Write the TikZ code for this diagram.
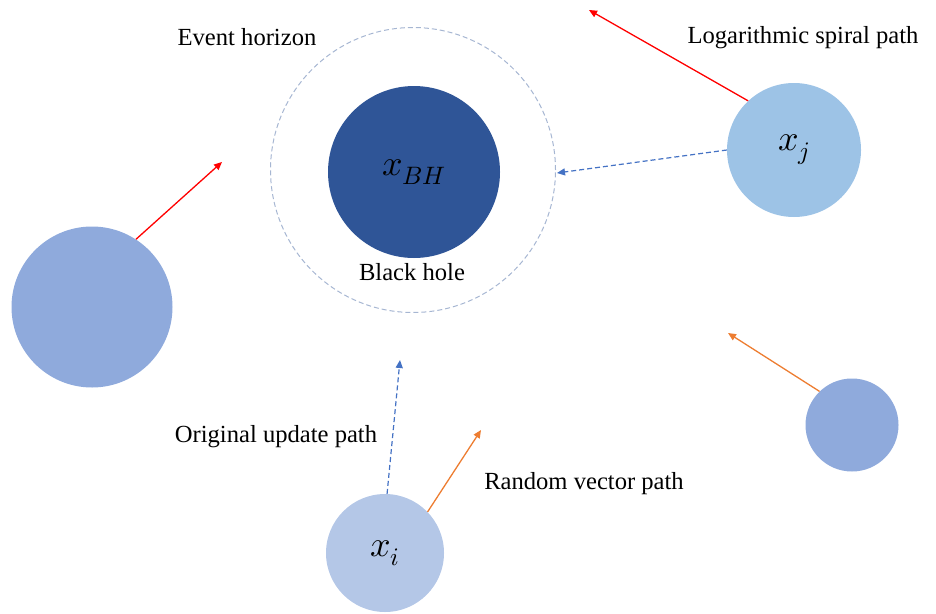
\documentclass[tikz,border=0pt]{standalone}
\usepackage{fontspec}
\usepackage{unicode-math}
\setmainfont{Liberation Serif}
\setmathfont{Latin Modern Math}
\usetikzlibrary{arrows.meta}
\definecolor{bhblue}{HTML}{2F5597}
\definecolor{lightblue}{HTML}{9DC3E6}
\definecolor{midblue}{HTML}{8FAADC}
\definecolor{paleblue}{HTML}{B4C7E7}
\definecolor{horizon}{HTML}{A6B6D2}
\definecolor{dashblue}{HTML}{4472C4}
\definecolor{orangeline}{HTML}{ED7D31}
\tikzset{
  body/.style={circle, draw=none, inner sep=0pt, minimum size=#1},
  lbl/.style={font=\fontsize{24.6}{29}\selectfont, inner sep=0pt},
  mlbl/.style={font=\fontsize{36}{42}\selectfont},
  tip/.style={-{Triangle[length=8pt,width=7pt]}},
  redpath/.style={tip, draw=red, line width=1.3pt},
  orangepath/.style={tip, draw=orangeline, line width=1.3pt},
  bluepath/.style={tip, draw=dashblue, line width=1.2pt, dash pattern=on 5pt off 3pt},
}
\begin{document}
\begin{tikzpicture}[x=1pt, y=-1pt]
\useasboundingbox (0,0) rectangle (936,613);

% event horizon and black hole
\node[body=285pt, draw=horizon, line width=1pt, dash pattern=on 5pt off 3pt] (eh) at (413,170) {};
\node[body=172pt, fill=bhblue, mlbl] (bh) at (414,172) {$x_{BH}$};
\node[lbl] (bhl) at (412,272) {Black hole};
\node[lbl] (ehl) at (247,37) {Event horizon};

% particles
\node[body=134pt, fill=lightblue, mlbl] (xj) at (794,150) {$x_j$};
\node[body=161pt, fill=midblue] (pl) at (92,307) {};
\node[body=93pt, fill=midblue] (pr) at (852,425) {};
\node[body=118pt, fill=paleblue, mlbl] (xi) at (385,553) {$x_i$};

% free ends of the paths
\coordinate (ej1) at (589,10);
\coordinate (ej2) at (557,173);
\coordinate (el) at (222,162);
\coordinate (er) at (728,333);
\coordinate (ei1) at (400,360);
\coordinate (ei2) at (481,430);

% paths
\draw[redpath] (xj.133) -- (ej1);
\draw[bluepath] (xj.180) -- (ej2);
\draw[redpath] (pl.57) -- (el);
\draw[orangepath] (pr.134) -- (er);
\draw[bluepath] (xi.88) -- (ei1);
\draw[orangepath] (xi.44) -- (ei2);

% path labels
\node[lbl] (lsp) at (803,38) {Logarithmic spiral path};
\node[lbl] (oup) at (276,437) {Original update path};
\node[lbl] (rvp) at (584,484) {Random vector path};
\end{tikzpicture}
\end{document}
